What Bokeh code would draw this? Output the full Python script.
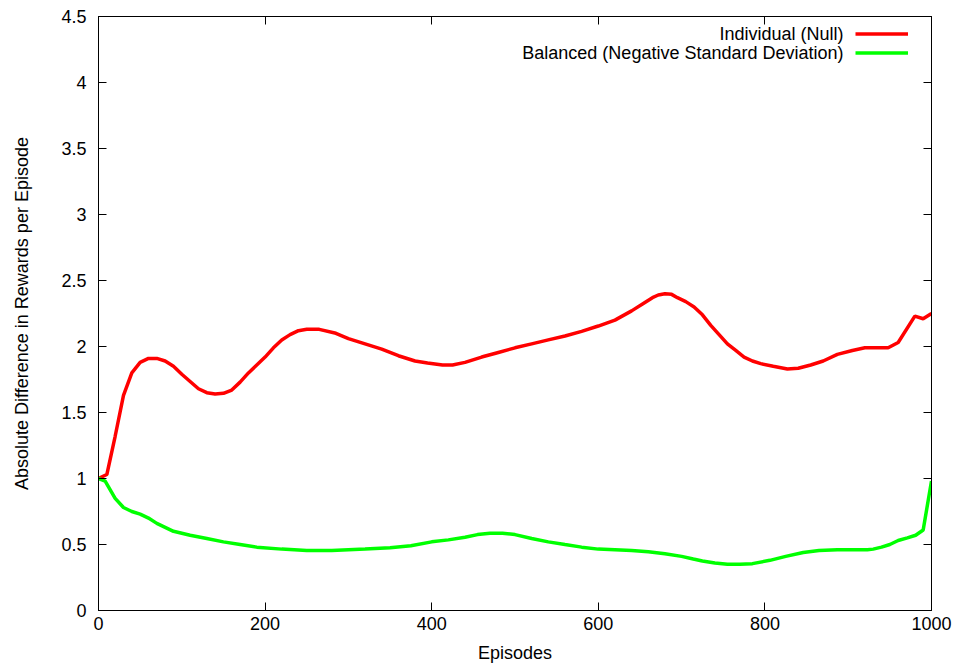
from bokeh.plotting import figure
from bokeh.models import Range1d, FixedTicker, LinearAxis, Legend, LegendItem, Label
from bokeh.embed import file_html
from bokeh.resources import INLINE

# ---- data ----
red_episodes = [0, 10, 20, 30, 40, 50, 60, 70, 80, 90, 100, 110, 120, 130, 140, 150, 160, 170, 180, 190,
                200, 210, 220, 230, 240, 250, 265, 285, 300, 320, 340, 360, 380, 395, 413, 425, 440, 460,
                480, 500, 520, 540, 560, 580, 600, 620, 640, 655, 665, 672, 680, 688, 695, 705, 715, 725,
                735, 745, 755, 765, 775, 785, 795, 810, 827, 840, 855, 870, 887, 905, 920, 935, 948, 960,
                980, 990, 1000]
red_values = [1.00, 1.03, 1.32, 1.63, 1.80, 1.88, 1.91, 1.91, 1.89, 1.85, 1.79, 1.735, 1.68, 1.65, 1.64,
              1.645, 1.67, 1.73, 1.80, 1.86, 1.92, 1.99, 2.05, 2.09, 2.12, 2.13, 2.13, 2.10, 2.06, 2.02,
              1.98, 1.93, 1.89, 1.875, 1.86, 1.86, 1.88, 1.92, 1.955, 1.99, 2.02, 2.05, 2.08, 2.115, 2.155,
              2.20, 2.27, 2.33, 2.37, 2.39, 2.40, 2.395, 2.37, 2.34, 2.30, 2.24, 2.16, 2.09, 2.02, 1.97,
              1.92, 1.89, 1.87, 1.85, 1.83, 1.835, 1.86, 1.89, 1.94, 1.97, 1.99, 1.99, 1.99, 2.03, 2.23,
              2.21, 2.25]

green_episodes = [0, 8, 20, 30, 40, 50, 60, 70, 80, 90, 100, 110, 130, 150, 170, 190, 220, 250, 280, 300,
                  320, 350, 375, 400, 420, 440, 455, 470, 485, 500, 520, 540, 560, 580, 600, 620, 640, 660,
                  680, 700, 714, 725, 740, 755, 770, 785, 806, 825, 846, 865, 887, 905, 923, 930, 940, 950,
                  960, 971, 981, 990, 1000]
green_values = [1.00, 0.98, 0.85, 0.78, 0.75, 0.73, 0.70, 0.66, 0.63, 0.60, 0.585, 0.57, 0.545, 0.52, 0.50,
                0.48, 0.465, 0.455, 0.455, 0.46, 0.465, 0.475, 0.49, 0.52, 0.535, 0.555, 0.575, 0.585,
                0.585, 0.575, 0.545, 0.52, 0.50, 0.48, 0.465, 0.46, 0.455, 0.445, 0.43, 0.41, 0.39, 0.375,
                0.36, 0.35, 0.35, 0.355, 0.38, 0.41, 0.44, 0.455, 0.46, 0.46, 0.46, 0.465, 0.48, 0.50,
                0.53, 0.55, 0.57, 0.61, 0.98]

series_names = ["Individual (Null)", "Balanced (Negative Standard Deviation)"]
series_colors = ["#ff0000", "#00ff00"]

x_ticks = [0, 200, 400, 600, 800, 1000]
x_tick_labels = ["0", "200", "400", "600", "800", "1000"]
y_ticks = [0, 0.5, 1, 1.5, 2, 2.5, 3, 3.5, 4, 4.5]
y_tick_labels = ["0", "0.5", "1", "1.5", "2", "2.5", "3", "3.5", "4", "4.5"]

x_title = "Episodes"
y_title = "Absolute Difference in Rewards per Episode"

FONT = "Liberation Sans"
FS = "18px"

p = figure(width=960, height=668, output_backend="svg", toolbar_location=None,
           x_range=Range1d(0, 1000), y_range=Range1d(0, 4.5),
           min_border_left=98, min_border_right=29, min_border_top=16, min_border_bottom=58)
p.xgrid.visible = False
p.ygrid.visible = False
p.outline_line_color = "black"
p.outline_line_width = 1
p.background_fill_color = "white"
p.border_fill_color = "white"

def style_axis(ax, ticks, labels, show_labels):
    ax.ticker = FixedTicker(ticks=ticks)
    ax.major_label_overrides = {t: l for t, l in zip(ticks, labels)}
    ax.major_tick_in = 8
    ax.major_tick_out = 0
    ax.minor_tick_in = 0
    ax.minor_tick_out = 0
    ax.axis_line_color = "black"
    ax.major_tick_line_color = "black"
    ax.major_label_text_font = FONT
    ax.major_label_text_color = "black"
    ax.axis_label_text_font = FONT
    ax.axis_label_text_font_style = "normal"
    ax.axis_label_text_font_size = FS
    ax.axis_label_text_color = "black"
    if show_labels:
        ax.major_label_text_font_size = FS
    else:
        ax.major_label_text_font_size = "0px"
        ax.major_label_standoff = 0

xa = p.xaxis[0]
style_axis(xa, x_ticks, x_tick_labels, True)
xa.axis_label = x_title
xa.major_label_standoff = 6
xa.axis_label_standoff = 10

ya = p.yaxis[0]
style_axis(ya, y_ticks, y_tick_labels, True)
ya.axis_label = y_title
ya.major_label_standoff = 12
ya.axis_label_standoff = 26

top = LinearAxis()
style_axis(top, x_ticks, x_tick_labels, False)
p.add_layout(top, "above")
right = LinearAxis()
style_axis(right, y_ticks, y_tick_labels, False)
p.add_layout(right, "right")

r1 = p.line(red_episodes, red_values, line_color=series_colors[0], line_width=3.5)
r2 = p.line(green_episodes, green_values, line_color=series_colors[1], line_width=3.5)

legend = Legend(items=[LegendItem(label=" ", renderers=[r1]), LegendItem(label=" ", renderers=[r2])],
                location=(757, 548), orientation="vertical",
                padding=0, margin=0, spacing=0, glyph_width=53, glyph_height=19,
                label_standoff=0, label_width=0, label_height=19,
                label_text_font_size="1px",
                border_line_color=None, background_fill_alpha=0)
p.add_layout(legend)

for i, name in enumerate(series_names):
    p.add_layout(Label(x=745, y=577 - 19 * i, x_units="screen", y_units="screen", text=name,
                       text_align="right", text_baseline="middle", text_font=FONT,
                       text_font_size=FS, text_color="black"))

open("out.html", "w").write(file_html(p, INLINE))
